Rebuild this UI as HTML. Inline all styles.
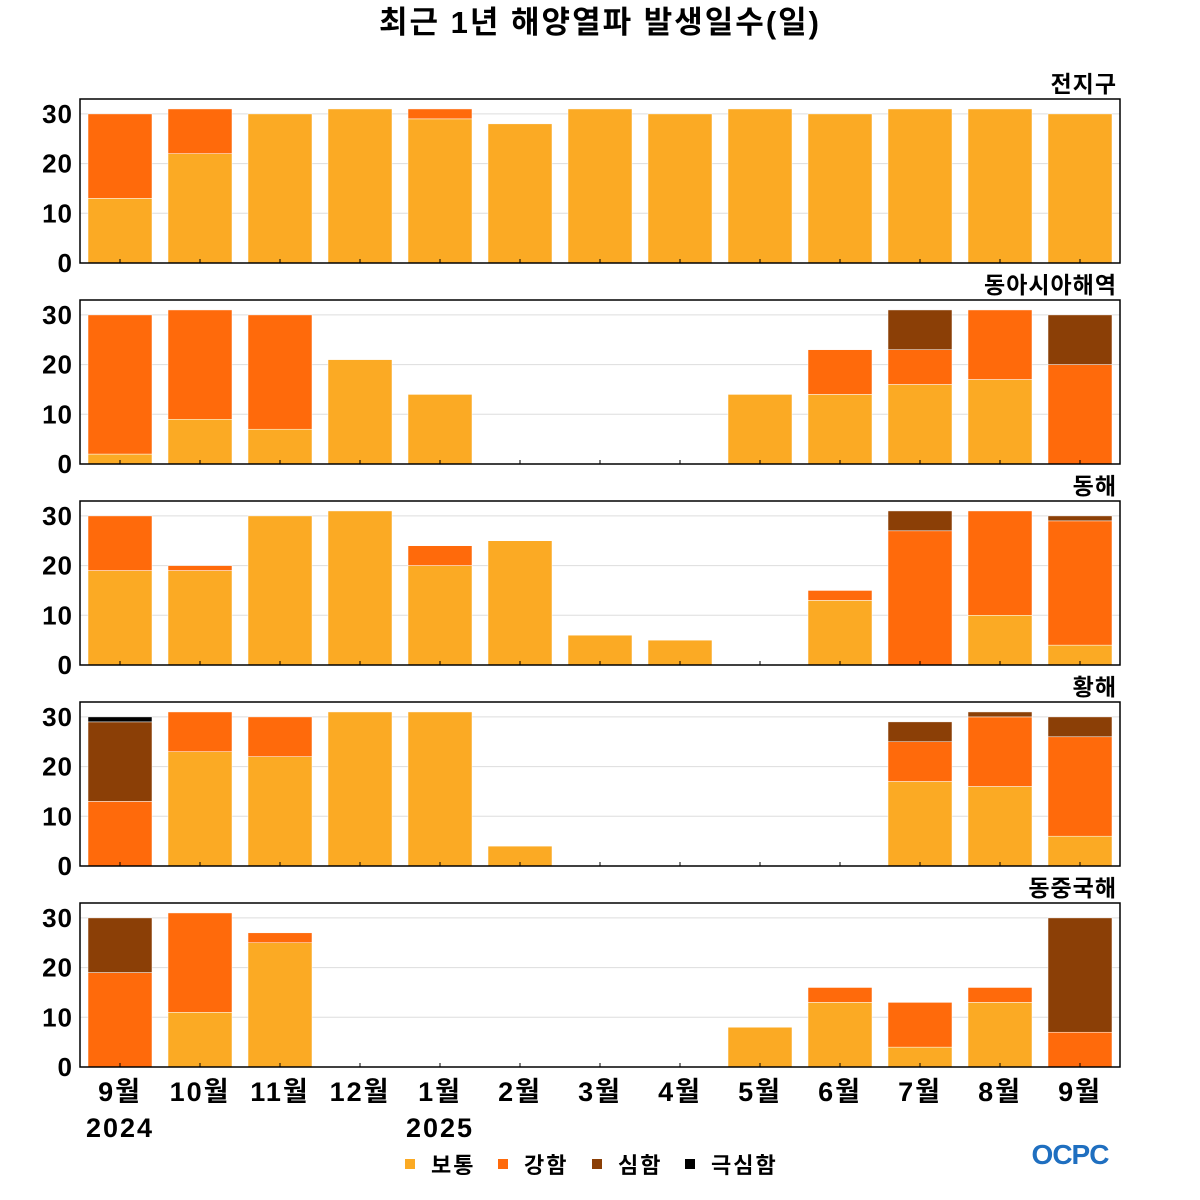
<!DOCTYPE html>
<html><head><meta charset="utf-8">
<style>
html,body{margin:0;padding:0;background:#fff;}
svg{display:block;font-family:"Liberation Sans","Noto Sans CJK KR",sans-serif;}
</style></head>
<body>
<svg id="chart" width="1200" height="1200">
<text x="600" y="33" text-anchor="middle" font-size="31" font-weight="bold" letter-spacing="2">최근 1년 해양열파 발생일수(일)</text>
</svg>
<script>
const months = ["9월","10월","11월","12월","1월","2월","3월","4월","5월","6월","7월","8월","9월"];
const regions = ["전지구","동아시아해역","동해","황해","동중국해"];
const yTicks = [0,10,20,30];
const legendLabels = ["보통","강함","심함","극심함"];
const colors = ["#FBAA24","#FF6A0B","#8B3F06","#000000"];
const globalMild   = [13,22,30,31,29,28,31,30,31,30,31,31,30];
const globalStrong = [17,9,0,0,2,0,0,0,0,0,0,0,0];
const eaMild    = [2,9,7,21,14,0,0,0,14,14,16,17,0];
const eaStrong  = [28,22,23,0,0,0,0,0,0,9,7,14,20];
const eaSevere  = [0,0,0,0,0,0,0,0,0,0,8,0,10];
const esMild    = [19,19,30,31,20,25,6,5,0,13,0,10,4];
const esStrong  = [11,1,0,0,4,0,0,0,0,2,27,21,25];
const esSevere  = [0,0,0,0,0,0,0,0,0,0,4,0,1];
const ysMild    = [0,23,22,31,31,4,0,0,0,0,17,16,6];
const ysStrong  = [13,8,8,0,0,0,0,0,0,0,8,14,20];
const ysSevere  = [16,0,0,0,0,0,0,0,0,0,4,1,4];
const ysExtreme = [1,0,0,0,0,0,0,0,0,0,0,0,0];
const ecMild    = [0,11,25,0,0,0,0,0,8,13,4,13,0];
const ecStrong  = [19,20,2,0,0,0,0,0,0,3,9,3,7];
const ecSevere  = [11,0,0,0,0,0,0,0,0,0,0,0,23];
const zeros = new Array(13).fill(0);
const series = [
  [globalMild,globalStrong,zeros,zeros],
  [eaMild,eaStrong,eaSevere,zeros],
  [esMild,esStrong,esSevere,zeros],
  [ysMild,ysStrong,ysSevere,ysExtreme],
  [ecMild,ecStrong,ecSevere,zeros]
];
const NS="http://www.w3.org/2000/svg";
const svg=document.getElementById('chart');
function mk(tag,attrs,parent){const e=document.createElementNS(NS,tag);for(const k in attrs)e.setAttribute(k,attrs[k]);(parent||svg).appendChild(e);return e;}
const L=80,R=1120,slot=(R-L)/13,bw=64,ph=164,yMax=33;
const panelTops=[99,300,501,702,903];
function xC(i){return L+slot*(i+0.5);}
regions.forEach((name,p)=>{
  const top=panelTops[p],bot=top+ph;
  const y=v=>bot-v*ph/yMax;
  const g=mk('g',{});
  
  
  const t=mk('text',{x:1117,y:top-7,'text-anchor':'end','font-size':23,'font-weight':'bold','letter-spacing':1},g);
  t.textContent=name;
  
  
  yTicks.forEach(v=>{
    if(v>0){const gl=mk('line',{x1:L,x2:R,y1:y(v),y2:y(v),stroke:'#ddd','stroke-width':1},g);
    
    }
    const tl=mk('text',{x:73,y:y(v)+9,'text-anchor':'end','font-size':26,'font-weight':'bold','letter-spacing':1},g);
    tl.textContent=v;
    
    
  });
  for(let i=0;i<13;i++){
    let acc=0;
    for(let s=0;s<4;s++){
      const v=series[p][s][i];
      if(v<=0)continue;
      const r=mk('rect',{x:xC(i)-bw/2,y:y(acc+v),width:bw,height:y(acc)-y(acc+v),fill:colors[s],stroke:'#fff','stroke-width':0.5},g);
      
      
      acc+=v;
    }
    mk('line',{x1:xC(i),x2:xC(i),y1:bot,y2:bot-4,stroke:'#000','stroke-width':1},g);
  }
  const fr=mk('rect',{x:L,y:top,width:R-L,height:ph,fill:'none',stroke:'#000','stroke-width':1.5},g);
  
  
});
months.forEach((m,i)=>{
  const t=mk('text',{x:xC(i),y:1101,'text-anchor':'middle','font-size':27,'font-weight':'bold','letter-spacing':2});
  t.textContent=m;
  
  
});
[["2024",0],["2025",4]].forEach(([yr,i])=>{
  const t=mk('text',{x:xC(i),y:1137,'text-anchor':'middle','font-size':27,'font-weight':'bold','letter-spacing':2});
  t.textContent=yr;
  
  
});
const lx=[405,498,592,685];
legendLabels.forEach((lab,s)=>{
  const g=mk('g',{});
  
  
  mk('rect',{x:lx[s],y:1159,width:10,height:10,fill:colors[s]},g);
  const t=mk('text',{x:lx[s]+26,y:1173,'font-size':22,'font-weight':'bold','letter-spacing':2},g);
  t.textContent=lab;
});
const logo=mk('text',{x:1070,y:1164,'text-anchor':'middle','font-size':28,'font-weight':'bold',fill:'#1f6fc0','letter-spacing':'-1'});
logo.textContent="OCPC";


</script>
</body></html>
